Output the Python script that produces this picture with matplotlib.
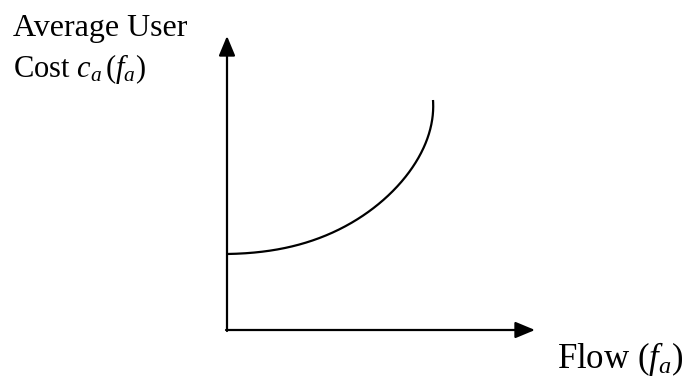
import matplotlib
matplotlib.use("Agg")
import matplotlib.pyplot as plt
import numpy as np

# Curve (arbitrary units; origin at the axes corner)
flow = [0, 19, 39, 59, 79, 99, 109, 130, 143, 156, 170, 183, 193, 200, 204, 206, 206]
cost = [76, 77, 79, 82, 87, 95, 99, 110, 120, 130, 143, 160, 173, 190, 207, 220, 230]

ylabel_lines = ["Average User", r"Cost $c_a\,\mathit{(f}_{a}\mathit{)}$"]
xlabel = r"Flow $\mathit{(f}_{a}\mathit{)}$"

plt.rcParams['mathtext.fontset'] = 'custom'
plt.rcParams['mathtext.rm'] = 'Liberation Serif'
plt.rcParams['mathtext.it'] = 'Liberation Serif:italic'
plt.rcParams['font.family'] = ['Liberation Serif', 'DejaVu Serif']

W, H = 692, 382
fig = plt.figure(figsize=(W / 100, H / 100), dpi=100)
ax = fig.add_axes([0, 0, 1, 1])
ox, oy = 227, 330
ax.set_xlim(-ox, W - ox)
ax.set_ylim(-(H - oy), oy)
ax.axis('off')

# smooth rendering: least-squares parametric polynomial through the read points
f = np.array(flow, float)
c = np.array(cost, float)
t = np.concatenate([[0], np.cumsum(np.hypot(np.diff(f), np.diff(c)))])
t /= t[-1]
w = np.ones_like(t); w[0] = w[-1] = 20
pf = np.polyfit(t, f, 5, w=w)
pc = np.polyfit(t, c, 5, w=w)
ts = np.linspace(0, 1, 400)
ax.plot(np.polyval(pf, ts), np.polyval(pc, ts), color='black', lw=1.6,
        solid_capstyle='butt')

arrow = dict(arrowstyle='-|>,head_length=1.2,head_width=0.5', color='black',
             lw=1.6, shrinkA=0, shrinkB=0)
ax.annotate('', xy=(0, 294), xytext=(0, -1), arrowprops=arrow)
ax.annotate('', xy=(308, 0), xytext=(-1, 0), arrowprops=arrow)

fig.text(13 / W, 1 - 36 / H, ylabel_lines[0], fontsize=23, va='baseline', ha='left')
fig.text(13 / W, 1 - 77 / H, ylabel_lines[1], fontsize=22, va='baseline', ha='left')
fig.text(557 / W, 1 - 368 / H, xlabel, fontsize=25, va='baseline', ha='left')

fig.savefig('out.png', dpi=100)
